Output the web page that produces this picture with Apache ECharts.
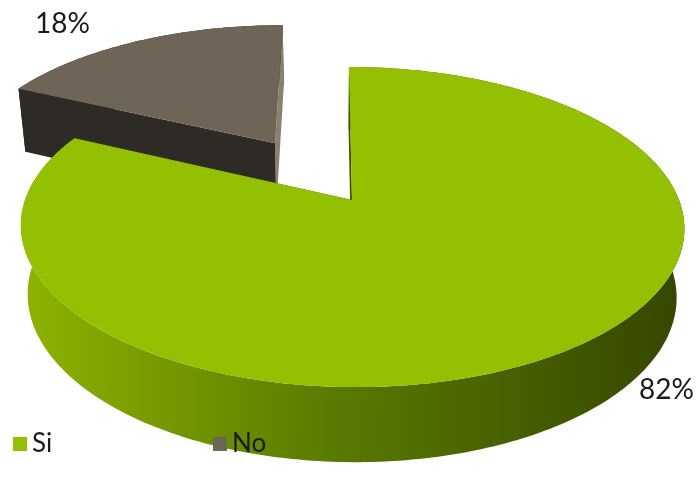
<!DOCTYPE html>
<html>
<head>
<meta charset="utf-8">
<script src="https://cdn.jsdelivr.net/npm/echarts@6/dist/echarts.min.js"></script>
<style>
  html, body { margin: 0; padding: 0; background: #ffffff; }
  #chart { width: 697px; height: 485px; }
</style>
</head>
<body>
<div id="chart"></div>
<script>
// Answers and their shares (percent)
const categories = ['Si', 'No'];
const values = [82, 18];

// Look of each slice: top face, outer wall, cut faces, and how far it is pulled out
const look = {
  top:     ['#93c000', '#6e6556'],
  wall:    [
    { type: 'linear', x: 22, y: 0, x2: 686, y2: 0, global: true,
      colorStops: [
        { offset: 0, color: '#8fb300' },
        { offset: 0.45, color: '#5a7c00' },
        { offset: 1, color: '#354600' }
      ] },
    '#2e2a25'
  ],
  cutStart: ['#3e5200', '#2e2a25'],
  cutEnd:   ['#3e5200', '#8a8070'],
  explode:  [0, 0.46]
};

// Tilted-disc projection: u to the right, v towards the viewer, z = 0 top, 1 bottom
const view = {
  ox: 352, oy: 200, vx: 331,
  rx: 327, ry: 155.5, persp: 0.169,
  depth: 67.7, depthPow: 0.554, taper: 0.022
};

// Horizontal gap between a slice's label anchor and its text (right side, left side)
const labelGap = { right: 29, left: 23 };

function project(u, v, z) {
  const w = 1 / (1 - view.persp * v);
  let x = view.vx + (view.ox - view.vx + view.rx * u) * w;
  let y = view.oy + view.ry * v * w;
  if (z) {
    x = view.vx + (x - view.vx) * (1 - view.taper);
    y += view.depth * Math.pow(w, view.depthPow);
  }
  return [x, y];
}

const total = values.reduce((a, b) => a + b, 0);

function sliceGeometry(idx) {
  const start = values.slice(0, idx).reduce((a, b) => a + b, 0);
  const a0 = start / total * Math.PI * 2;
  const a1 = (start + values[idx]) / total * Math.PI * 2;
  const mid = (a0 + a1) / 2;
  const e = look.explode[idx];
  const au = e * Math.sin(mid), av = -e * Math.cos(mid);
  return { a0, a1, mid, au, av };
}

function renderSlice(idx) {
  const g = sliceGeometry(idx);
  const pt = (phi, r, z) => project(g.au + r * Math.sin(phi), g.av - r * Math.cos(phi), z);
  const n = Math.max(8, Math.ceil((g.a1 - g.a0) / (Math.PI / 180)));
  const topArc = [], botArc = [];
  for (let i = 0; i <= n; i++) {
    const phi = g.a0 + (g.a1 - g.a0) * i / n;
    topArc.push(pt(phi, 1, 0));
    botArc.push(pt(phi, 1, 1));
  }
  const apexT = pt(0, 0, 0), apexB = pt(0, 0, 1);
  const wall = topArc.concat(botArc.slice().reverse());
  const cut0 = [apexT, topArc[0], botArc[0], apexB];
  const cut1 = [apexT, topArc[n], botArc[n], apexB];
  const topFace = [apexT].concat(topArc);

  const right = Math.sin(g.mid) >= 0;
  const lp = pt(g.mid, 1.2, 0);

  return {
    type: 'group',
    children: [
      { type: 'polygon', shape: { points: wall }, style: { fill: look.wall[idx] } },
      { type: 'polygon', shape: { points: cut1 }, style: { fill: look.cutEnd[idx] } },
      { type: 'polygon', shape: { points: cut0 }, style: { fill: look.cutStart[idx] } },
      { type: 'polygon', shape: { points: topFace }, style: { fill: look.top[idx] } },
      {
        type: 'text',
        x: lp[0] + (right ? labelGap.right : -labelGap.left),
        y: lp[1],
        style: {
          text: values[idx] + '%',
          fill: '#1a1a1a',
          font: '28px Lato, "Open Sans", sans-serif',
          align: right ? 'left' : 'right',
          verticalAlign: 'middle'
        }
      }
    ]
  };
}

// Farther slices first so nearer ones paint over them
const order = categories.map((c, i) => i)
  .sort((i, j) => sliceGeometry(i).av - sliceGeometry(j).av);

const series = order.map(i => ({
  type: 'custom',
  name: categories[i],
  coordinateSystem: 'none',
  itemStyle: { color: look.top[i] },
  data: [values[i]],
  renderItem: () => renderSlice(i)
}));

// One legend block per answer, spaced along the bottom
const legendLeft = [8, 208];
const legends = categories.map((name, i) => ({
  data: [name],
  left: legendLeft[i],
  top: 426,
  icon: 'rect',
  itemWidth: 14,
  itemHeight: 14,
  itemGap: 0,
  selectedMode: false,
  textStyle: { fontSize: 26, fontFamily: 'Lato, "Open Sans", sans-serif', color: '#1a1a1a' }
}));

const chart = echarts.init(document.getElementById('chart'));
chart.setOption({
  animation: false,
  backgroundColor: '#ffffff',
  legend: legends,
  series: series
});
</script>
</body>
</html>
